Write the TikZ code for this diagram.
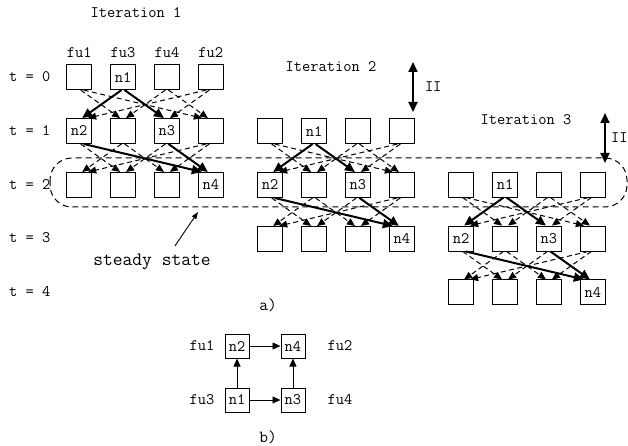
\documentclass[tikz,border=0pt]{standalone}
\usetikzlibrary{positioning,arrows.meta,calc,matrix}

\begin{document}
\begin{tikzpicture}[
  x=1pt, y=-1pt,
  font=\ttfamily\fontsize{16}{18}\selectfont,
  lbl/.style={inner sep=0pt},
  grid/.style={matrix of nodes, nodes={draw, line width=0.9pt, minimum size=25pt, inner sep=0pt, anchor=center},
               row sep=28pt, column sep=18pt, nodes in empty cells, inner sep=0pt},
  gridb/.style={matrix of nodes, nodes={draw, line width=0.9pt, minimum size=24pt, inner sep=0pt, anchor=center},
               row sep=29pt, column sep=31pt, inner sep=0pt},
  dep/.style={-{Triangle[length=8pt,width=7pt]}, dash pattern=on 5pt off 3.5pt, line width=1pt},
  fwd/.style={-{Triangle[length=10pt,width=9pt]}, line width=2pt},
  ii/.style={{Triangle[length=10pt,width=9pt]}-{Triangle[length=10pt,width=9pt]}, line width=2pt},
  ssbox/.style={dash pattern=on 6pt off 4pt, line width=1pt, rounded corners=22pt},
  note/.style={-{Triangle[length=7pt,width=5pt]}, line width=0.9pt},
  link/.style={-{Triangle[length=8pt,width=7pt]}, line width=0.9pt},
]
\useasboundingbox (0,0) rectangle (628,446);

% ===== a) three overlapped iterations =====
\node[lbl] (iter1) at (136,13) {Iteration 1};
\node[lbl] (iter2) at (331,67) {Iteration 2};
\node[lbl] (iter3) at (526,120) {Iteration 3};

\matrix[grid] (it1) at (145,131) {
   & n1 &    &    \\
n2 &    & n3 &    \\
   &    &    & n4 \\
};
\matrix[grid] (it2) at (336,185) {
   & n1 &    &    \\
n2 &    & n3 &    \\
   &    &    & n4 \\
};
\matrix[grid] (it3) at (527,238.5) {
   & n1 &    &    \\
n2 &    & n3 &    \\
   &    &    & n4 \\
};

% functional units and time steps
\foreach \c/\f in {1/fu1,2/fu3,3/fu4,4/fu2}
  \node[lbl,above=6pt of it1-1-\c] (\f) {\f};
\foreach \t/\y in {0/77,1/131,2/185,3/238,4/292}
  \node[lbl,anchor=west] (t\t) at (9,\y) {t = \t};

% routing between neighbouring units (dashed) and dependences (solid)
\foreach \g in {it1,it2,it3}{
  \foreach \a/\b in {1/2,1/4,3/2,3/4,4/1,4/3}
    \draw[dep] ($(\g-1-\a.south)+({(\b-\a)*1.5},0)$) -- ($(\g-2-\b.north)+({(\a-\b)*3},0)$);
  \foreach \a/\b in {2/1,2/3}
    \draw[fwd] ($(\g-1-\a.south)+({(\b-\a)*1.5},0)$) -- ($(\g-2-\b.north)+({(\a-\b)*3},0)$);
  \foreach \a/\b in {1/2,2/1,2/3,3/2,4/1,4/3}
    \draw[dep] ($(\g-2-\a.south)+({(\b-\a)*1.5},0)$) -- ($(\g-3-\b.north)+({(\a-\b)*3},0)$);
  \foreach \a/\b in {1/4,3/4}
    \draw[fwd] ($(\g-2-\a.south)+({(\b-\a)*1.5},0)$) -- ($(\g-3-\b.north)+({(\a-\b)*3},0)$);
}

% initiation interval
\coordinate (ii1a) at (413,62);  \coordinate (ii1b) at (413,112);
\coordinate (ii2a) at (605,113); \coordinate (ii2b) at (605,163);
\draw[ii] (ii1a) -- node[lbl,right=11pt] (ii1) {II} (ii1b);
\draw[ii] (ii2a) -- node[lbl,right=5pt] (ii2) {II} (ii2b);

% steady state
\draw[ssbox] (50,158) rectangle (627,207);
\node[lbl,font=\ttfamily\fontsize{19}{21}\selectfont] (sslbl) at (152,262) {steady state};
\coordinate (sstip) at (198,212);
\draw[note] ($(sslbl.north)+(23,-8)$) -- (sstip);

\node[lbl,font=\ttfamily\fontsize{17}{19}\selectfont] (capa) at (268,305) {a)};

% ===== b) 2x2 array =====
\matrix[gridb] (fb) at (265,373) {
n2 & n4 \\
n1 & n3 \\
};
\node[lbl,left=10pt of fb-1-1] (bfu1) {fu1};
\node[lbl,left=10pt of fb-2-1] (bfu3) {fu3};
\node[lbl,right=22pt of fb-1-2] (bfu2) {fu2};
\node[lbl,right=22pt of fb-2-2] (bfu4) {fu4};
\draw[link] (fb-2-1) -- (fb-1-1);
\draw[link] (fb-2-1) -- (fb-2-2);
\draw[link] (fb-1-1) -- (fb-1-2);
\draw[link] (fb-2-2) -- (fb-1-2);

\node[lbl,font=\ttfamily\fontsize{17}{19}\selectfont] (capb) at (268,437) {b)};
\end{tikzpicture}
\end{document}
